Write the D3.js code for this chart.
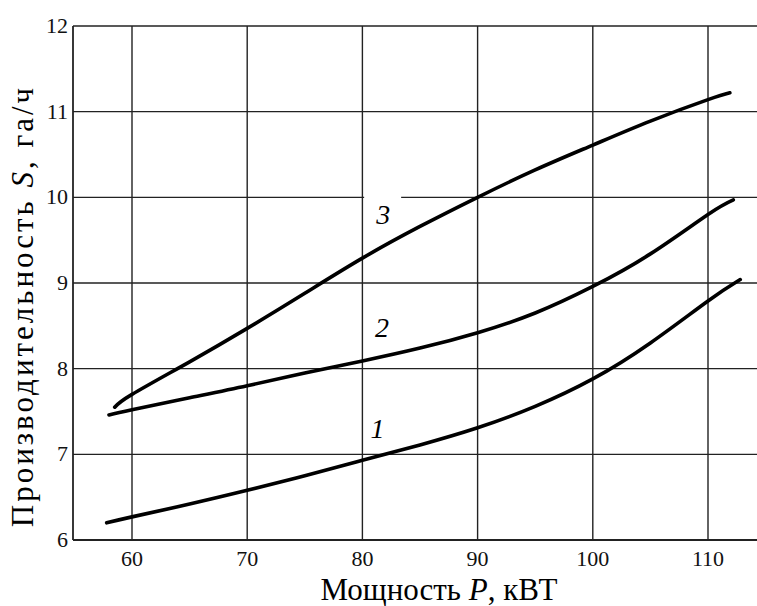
<!DOCTYPE html>
<html>
<head>
<meta charset="utf-8">
<script src="https://cdn.jsdelivr.net/npm/d3@7"></script>
<style>
  body { margin: 0; background: #fff; }
</style>
</head>
<body>
<div class="chart"></div>
<script>
// tick values
const xTicks = [60, 70, 80, 90, 100, 110];
const yTicks = [6, 7, 8, 9, 10, 11, 12];

// curves (P, кВт -> S, га/ч)
const curve1P = [57.8, 60, 65, 70, 75, 80, 85, 90, 95, 100, 105, 110, 112.8];
const curve1S = [6.2, 6.27, 6.42, 6.58, 6.75, 6.93, 7.11, 7.31, 7.56, 7.88, 8.3, 8.79, 9.04];

const curve2P = [58, 60, 65, 70, 75, 80, 85, 90, 95, 100, 105, 110, 112.2];
const curve2S = [7.46, 7.52, 7.66, 7.8, 7.95, 8.09, 8.24, 8.42, 8.65, 8.96, 9.34, 9.8, 9.97];

const curve3P = [58.5, 60, 65, 70, 75, 80, 85, 90, 95, 100, 105, 110, 111.9];
const curve3S = [7.55, 7.7, 8.08, 8.47, 8.88, 9.29, 9.66, 10.0, 10.32, 10.61, 10.89, 11.14, 11.22];

const curveLabels = ["1", "2", "3"];
const labelP = [81.3, 81.7, 81.8];
const labelS = [7.19, 8.37, 9.69];

const W = 757, H = 606;
const mLeft = 73, mRight = 757, mTop = 26, mBottom = 540;
const serif = "'Times New Roman', 'Liberation Serif', 'DejaVu Serif', serif";

const svg = d3.select(".chart")
  .append("svg")
    .attr("width", W)
    .attr("height", H)
    .style("font-family", serif);

const x = d3.scaleLinear().domain([60, 110]).range([132, 708]);
const y = d3.scaleLinear().domain([6, 12]).range([mBottom, mTop]);

// grid
const grid = svg.append("g").attr("stroke", "#222").attr("stroke-width", 1.4);
grid.selectAll(".vg")
  .data(xTicks)
  .join("line")
    .attr("x1", d => x(d)).attr("x2", d => x(d))
    .attr("y1", mTop).attr("y2", mBottom);
grid.selectAll(".hg")
  .data(yTicks)
  .join("line")
    .attr("x1", mLeft).attr("x2", mRight)
    .attr("y1", d => y(d)).attr("y2", d => y(d));
// left & bottom axis lines
svg.append("line").attr("x1", mLeft).attr("x2", mLeft).attr("y1", mTop).attr("y2", mBottom)
  .attr("stroke", "#222").attr("stroke-width", 1.8);
svg.append("line").attr("x1", mLeft).attr("x2", mRight).attr("y1", mBottom).attr("y2", mBottom)
  .attr("stroke", "#222").attr("stroke-width", 1.8);

// tick labels
svg.append("g").selectAll("text")
  .data(xTicks)
  .join("text")
    .attr("x", d => x(d))
    .attr("y", 566)
    .attr("text-anchor", "middle")
    .attr("font-family", serif)
    .attr("font-size", 22)
    .attr("fill", "#111")
    .text(d => d);
svg.append("g").selectAll("text")
  .data(yTicks)
  .join("text")
    .attr("x", 68)
    .attr("y", d => y(d) + 7)
    .attr("text-anchor", "end")
    .attr("font-family", serif)
    .attr("font-size", 22)
    .attr("fill", "#111")
    .text(d => d);

// curves
const line = d3.line()
  .x(d => x(d[0]))
  .y(d => y(d[1]))
  .curve(d3.curveNatural);
const curves = [
  d3.zip(curve1P, curve1S),
  d3.zip(curve2P, curve2S),
  d3.zip(curve3P, curve3S)
];
svg.append("g").selectAll("path")
  .data(curves)
  .join("path")
    .attr("d", line)
    .attr("fill", "none")
    .attr("stroke", "#000")
    .attr("stroke-width", 3.6)
    .attr("stroke-linecap", "round");

// curve labels (with white gap behind "3")
svg.append("rect")
  .attr("x", x(labelP[2]) - 19).attr("y", y(10) - 3)
  .attr("width", 37).attr("height", 6)
  .attr("fill", "#fff");
svg.append("g").selectAll("text")
  .data(curveLabels)
  .join("text")
    .attr("x", (d, i) => x(labelP[i]))
    .attr("y", (d, i) => y(labelS[i]))
    .attr("text-anchor", "middle")
    .attr("font-family", serif)
    .attr("font-size", 28)
    .attr("font-style", "italic")
    .text(d => d);

// axis titles
const xt = svg.append("text")
  .attr("x", 439)
  .attr("y", 600)
  .attr("text-anchor", "middle")
  .attr("font-family", serif)
  .attr("font-size", 31);
xt.append("tspan").text("Мощность ");
xt.append("tspan").attr("font-style", "italic").text("P");
xt.append("tspan").text(", кВТ");

const yt = svg.append("text")
  .attr("transform", "translate(33,306) rotate(-90)")
  .attr("text-anchor", "middle")
  .attr("font-family", serif)
  .attr("font-size", 31)
  .attr("letter-spacing", 3);
yt.append("tspan").text("Производительность ");
yt.append("tspan").attr("font-style", "italic").text("S");
yt.append("tspan").text(", га/ч");
</script>
</body>
</html>
